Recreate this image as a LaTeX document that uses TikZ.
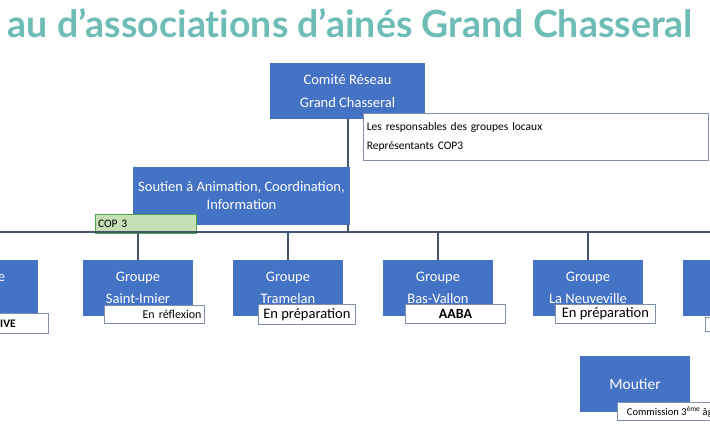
\documentclass[tikz,border=0pt]{standalone}
\usepackage{fontspec}
\setmainfont{Carlito}
\newfontfamily\titlefont{Lato}
\definecolor{bblue}{HTML}{4472C4}
\definecolor{lline}{HTML}{44546A}
\definecolor{teal}{HTML}{6DBDB6}
\definecolor{lgreen}{HTML}{C5E0B4}
\definecolor{dgreen}{HTML}{4EA64E}
\definecolor{lbord}{HTML}{7F8FA9}
\begin{document}
\begin{tikzpicture}[x=1pt,y=-1pt,
  bbox/.style={fill=bblue,draw=none,text=white,align=center,font=\fontsize{14.5}{22.5}\selectfont,inner sep=0},
  lab/.style={fill=white,draw=lbord,line width=0.8pt,inner sep=2pt},
  conn/.style={draw=lline,line width=1.4pt}]
\useasboundingbox (0,0) rectangle (710,426);
\clip (0,0) rectangle (710,426);
\node[anchor=base east,text=teal,font=\titlefont\bfseries\fontsize{37.5}{40}\selectfont,inner sep=0] (title) at (693,37) {au d’associat\kern0pt ions d’ainés Grand Chasseral};
% top
\node[bbox,minimum width=155,minimum height=56] (cr) at (347.5,91) {Comité Réseau\\Grand Chasseral};
\node[lab,anchor=north west,minimum width=345,minimum height=47,align=left,text width=338pt,font=\fontsize{11.5}{19.5}\selectfont,inner sep=3pt] (resp) at (363,113) {Les responsables des groupes locaux\\Représentants COP3};
\node[bbox,minimum width=217,minimum height=58,font=\fontsize{14.5}{18}\selectfont] (sout) at (241.5,196) {Soutien à Animation, Coordination,\\Information};
\node[anchor=north west,fill=lgreen,draw=dgreen,line width=1pt,minimum width=101,minimum height=19,inner sep=2pt,text width=96pt,align=left,font=\fontsize{11.5}{12}\selectfont] (cop) at (95,214) {COP 3};
\coordinate (hub) at (348,232);
\coordinate (hl) at (0,232);
\coordinate (hr) at (710,232);
\draw[conn] (cr.south -| hub) -- (sout.north -| hub);
\draw[conn] (sout.south -| hub) -- (hub);
\draw[conn] (hl) -- (hr);
% groups
\foreach \n/\cx/\t in {g0/-17/{Groupe\\Orvin},g1/138/{Groupe\\Saint-Imier},g2/288/{Groupe\\Tramelan},g3/438/{Groupe\\Bas-Vallon},g4/588/{Groupe\\La Neuveville},g5/738/{Groupe\\Vallée}}{
  \node[bbox,minimum width=110,minimum height=56] (\n) at (\cx,288) {\t};
  \draw[conn] (\n.north |- hl) -- (\n.north);
}
\node[lab,anchor=north east,minimum width=100,minimum height=20,align=right,font=\bfseries\fontsize{11.5}{12}\selectfont] (l0) at (49,313) {ACTIVE};
\node[lab,anchor=north west,minimum width=100,minimum height=18,font=\fontsize{12}{12}\selectfont,align=right,text width=94pt] (l1) at (104,305) {En réflexion};
\node[lab,anchor=north west,minimum width=97,minimum height=20,font=\fontsize{14.5}{15}\selectfont,inner sep=1pt] (l2) at (258,304) {En préparation};
\node[lab,anchor=north west,minimum width=100,minimum height=19,font=\bfseries\fontsize{14}{15}\selectfont,inner sep=1pt] (l3) at (405,304) {AABA};
\node[lab,anchor=north west,minimum width=100,minimum height=19,font=\fontsize{14.5}{15}\selectfont,inner sep=1pt] (l4) at (555,304) {En préparation};
\node[lab,anchor=north west,minimum width=100,minimum height=14] (l5) at (705,317) {};
% Moutier
\node[bbox,minimum width=110,minimum height=56,font=\fontsize{15.5}{18}\selectfont] (mout) at (635,384) {Moutier};
\node[lab,anchor=north west,minimum width=110,minimum height=18,font=\fontsize{10.5}{11}\selectfont] (lm) at (617,402) {Commission 3\textsuperscript{ème} âge};
\end{tikzpicture}
\end{document}
